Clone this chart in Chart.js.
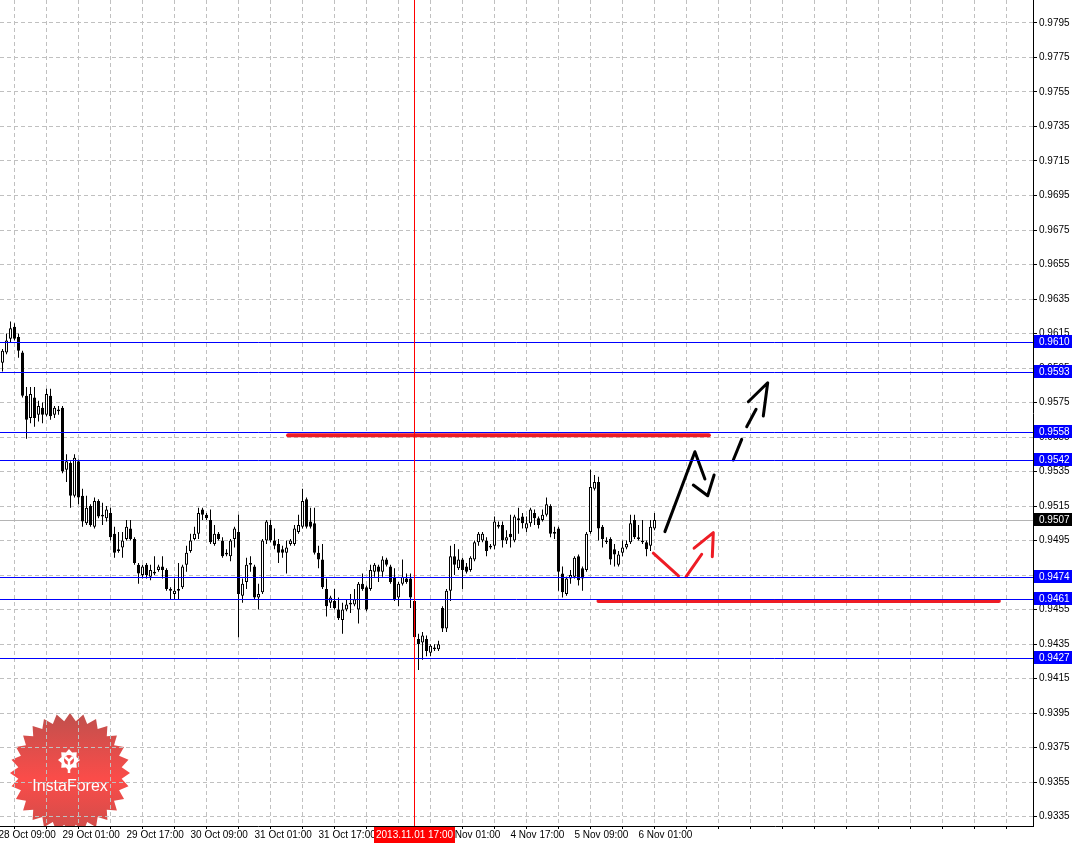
<!DOCTYPE html>
<html lang="en">
<head>
<meta charset="UTF-8">
<title>USDCHF H1</title>
<script src="https://cdn.jsdelivr.net/npm/chart.js"></script>
<style>
  html, body { margin: 0; padding: 0; background: #ffffff; }
  #caixa { width: 1074px; height: 844px; }
</style>
</head>
<body>
<div id="caixa"><canvas id="grafico" width="1074" height="844"></canvas></div>
<script>
// H1 candles, oldest first (bar 1 = 28 Oct 10:00)
const openP = [0.9598,0.9604,0.9612,0.9619,0.9613,0.9604,0.9579,0.9566,0.9578,0.9568,0.9572,0.9568,0.9579,0.9568,0.9571,0.9572,
  0.9536,0.9540,0.9521,0.9541,0.9521,0.9505,0.9515,0.9503,0.9518,0.9510,0.9508,0.9511,0.9499,0.9490,0.9491,0.9496,
  0.9502,0.9496,0.9481,0.9475,0.9481,0.9474,0.9477,0.9478,0.9480,0.9478,0.9467,0.9464,0.9466,0.9468,0.9481,0.9489,
  0.9496,0.9499,0.9513,0.9510,0.9507,0.9493,0.9499,0.9495,0.9488,0.9486,0.9496,0.9500,0.9463,0.9471,0.9482,0.9480,
  0.9462,0.9465,0.9495,0.9504,0.9495,0.9493,0.9490,0.9488,0.9493,0.9493,0.9500,0.9503,0.9519,0.9506,0.9505,0.9488,
  0.9484,0.9467,0.9459,0.9460,0.9455,0.9449,0.9455,0.9459,0.9458,0.9455,0.9470,0.9468,0.9467,0.9477,0.9480,0.9477,
  0.9484,0.9480,0.9474,0.9462,0.9470,0.9473,0.9473,0.9460,0.9438,0.9436,0.9438,0.9430,0.9433,0.9432,0.9456,0.9444,
  0.9466,0.9486,0.9479,0.9484,0.9480,0.9478,0.9484,0.9494,0.9495,0.9495,0.9491,0.9492,0.9503,0.9504,0.9495,0.9499,
  0.9495,0.9508,0.9509,0.9502,0.9505,0.9511,0.9508,0.9507,0.9510,0.9515,0.9499,0.9502,0.9476,0.9464,0.9473,0.9474,
  0.9486,0.9479,0.9478,0.9500,0.9525,0.9529,0.9503,0.9495,0.9496,0.9490,0.9481,0.9488,0.9491,0.9494,0.9507,0.9497,
  0.9495,0.9494,0.9492,0.9502];
const highP = [0.9606,0.9615,0.9622,0.9621,0.9615,0.9605,0.9584,0.9584,0.9584,0.9576,0.9575,0.9583,0.9583,0.9573,0.9573,0.9573,
  0.9545,0.9541,0.9545,0.9542,0.9525,0.9521,0.9516,0.9520,0.9519,0.9517,0.9515,0.9514,0.9503,0.9500,0.9500,0.9507,
  0.9507,0.9497,0.9482,0.9481,0.9482,0.9481,0.9486,0.9481,0.9486,0.9479,0.9468,0.9473,0.9482,0.9481,0.9492,0.9499,
  0.9503,0.9514,0.9514,0.9511,0.9513,0.9504,0.9500,0.9497,0.9490,0.9496,0.9503,0.9510,0.9473,0.9485,0.9486,0.9481,
  0.9470,0.9496,0.9507,0.9507,0.9502,0.9496,0.9492,0.9495,0.9496,0.9504,0.9510,0.9525,0.9520,0.9514,0.9514,0.9492,
  0.9493,0.9473,0.9463,0.9467,0.9462,0.9459,0.9461,0.9464,0.9467,0.9471,0.9476,0.9469,0.9481,0.9482,0.9481,0.9486,
  0.9485,0.9481,0.9479,0.9471,0.9484,0.9476,0.9476,0.9462,0.9441,0.9442,0.9440,0.9435,0.9435,0.9437,0.9457,0.9467,
  0.9492,0.9493,0.9490,0.9485,0.9482,0.9486,0.9495,0.9500,0.9500,0.9497,0.9493,0.9509,0.9506,0.9506,0.9501,0.9510,
  0.9510,0.9514,0.9511,0.9509,0.9514,0.9513,0.9509,0.9513,0.9520,0.9516,0.9503,0.9503,0.9480,0.9474,0.9478,0.9486,
  0.9487,0.9480,0.9500,0.9536,0.9533,0.9532,0.9504,0.9497,0.9497,0.9493,0.9489,0.9495,0.9495,0.9510,0.9510,0.9504,
  0.9507,0.9495,0.9507,0.9511];
const lowP = [0.9593,0.9603,0.9610,0.9611,0.9601,0.9578,0.9554,0.9563,0.9561,0.9564,0.9563,0.9567,0.9565,0.9566,0.9568,0.9534,
  0.9529,0.9514,0.9520,0.9516,0.9503,0.9504,0.9503,0.9502,0.9508,0.9504,0.9506,0.9495,0.9485,0.9488,0.9485,0.9495,
  0.9495,0.9481,0.9470,0.9473,0.9473,0.9472,0.9475,0.9477,0.9473,0.9466,0.9461,0.9461,0.9461,0.9467,0.9477,0.9488,
  0.9495,0.9496,0.9507,0.9507,0.9493,0.9492,0.9495,0.9485,0.9486,0.9483,0.9491,0.9439,0.9459,0.9467,0.9477,0.9461,
  0.9455,0.9464,0.9493,0.9494,0.9490,0.9482,0.9485,0.9476,0.9492,0.9492,0.9499,0.9502,0.9502,0.9502,0.9487,0.9479,
  0.9467,0.9451,0.9456,0.9455,0.9449,0.9441,0.9454,0.9453,0.9457,0.9447,0.9466,0.9454,0.9466,0.9474,0.9471,0.9474,
  0.9480,0.9470,0.9460,0.9457,0.9469,0.9470,0.9456,0.9438,0.9420,0.9426,0.9428,0.9428,0.9431,0.9431,0.9442,0.9442,
  0.9460,0.9475,0.9478,0.9467,0.9476,0.9477,0.9483,0.9492,0.9494,0.9486,0.9490,0.9490,0.9502,0.9491,0.9493,0.9491,
  0.9494,0.9499,0.9502,0.9500,0.9503,0.9504,0.9502,0.9506,0.9509,0.9497,0.9496,0.9466,0.9462,0.9463,0.9470,0.9473,
  0.9469,0.9466,0.9477,0.9499,0.9524,0.9495,0.9491,0.9493,0.9481,0.9480,0.9480,0.9486,0.9490,0.9493,0.9496,0.9495,
  0.9493,0.9486,0.9489,0.9501];
const closeP = [0.9605,0.9611,0.9618,0.9612,0.9605,0.9579,0.9565,0.9580,0.9566,0.9573,0.9568,0.9580,0.9567,0.9572,0.9570,0.9535,
  0.9541,0.9521,0.9543,0.9520,0.9506,0.9514,0.9504,0.9518,0.9509,0.9509,0.9513,0.9497,0.9488,0.9489,0.9495,0.9503,
  0.9496,0.9482,0.9476,0.9480,0.9475,0.9478,0.9476,0.9480,0.9478,0.9467,0.9466,0.9466,0.9467,0.9480,0.9488,0.9495,
  0.9499,0.9511,0.9510,0.9508,0.9494,0.9499,0.9496,0.9486,0.9487,0.9495,0.9502,0.9464,0.9470,0.9481,0.9481,0.9462,
  0.9464,0.9495,0.9506,0.9495,0.9492,0.9488,0.9488,0.9491,0.9495,0.9502,0.9504,0.9518,0.9503,0.9503,0.9488,0.9484,
  0.9468,0.9457,0.9462,0.9456,0.9450,0.9455,0.9458,0.9458,0.9461,0.9470,0.9467,0.9455,0.9478,0.9481,0.9477,0.9484,
  0.9481,0.9471,0.9461,0.9470,0.9474,0.9471,0.9462,0.9439,0.9435,0.9440,0.9431,0.9434,0.9432,0.9435,0.9444,0.9466,
  0.9486,0.9481,0.9484,0.9478,0.9477,0.9485,0.9494,0.9499,0.9499,0.9489,0.9492,0.9506,0.9504,0.9495,0.9497,0.9497,
  0.9509,0.9507,0.9505,0.9505,0.9513,0.9508,0.9504,0.9510,0.9516,0.9499,0.9500,0.9477,0.9465,0.9473,0.9475,0.9485,
  0.9472,0.9473,0.9499,0.9526,0.9529,0.9502,0.9496,0.9494,0.9484,0.9487,0.9487,0.9491,0.9493,0.9505,0.9497,0.9496,
  0.9494,0.9490,0.9503,0.9507];

// time axis: bar position -> label (every 16 bars)
const tickPos = [0, 16, 32, 48, 64, 80, 96, 112, 128, 144, 160];
const tickLabels = ['28 Oct 09:00', '29 Oct 01:00', '29 Oct 17:00', '30 Oct 09:00', '31 Oct 01:00', '31 Oct 17:00',
  '1 Nov 09:00', '4 Nov 01:00', '4 Nov 17:00', '5 Nov 09:00', '6 Nov 01:00'];
const priceTicks = [0.9335,0.9355,0.9375,0.9395,0.9415,0.9435,0.9455,0.9475,0.9495,0.9515,0.9535,0.9555,
  0.9575,0.9595,0.9615,0.9635,0.9655,0.9675,0.9695,0.9715,0.9735,0.9755,0.9775,0.9795];

// horizontal levels, bid and the marked bar
const levels = [0.9610, 0.9593, 0.9558, 0.9542, 0.9474, 0.9461, 0.9427];
const bidPrice = 0.9507;
const markBar = 104;
const markLabel = '2013.11.01 17:00';

// drawn objects, [bar position, price]
const redBands = [
  [[72.4, 0.9556], [177.6, 0.9556]],
  [[150.0, 0.9460], [250.1, 0.9460]]
];
const blackStrokes = [
  [[166.6, 0.95002], [174.1, 0.95465], [176.6, 0.95307]],
  [[173.7, 0.95272], [177.3, 0.95210], [178.9, 0.95330]],
  [[183.7, 0.95417], [185.8, 0.95537]],
  [[187.05, 0.95610], [189.4, 0.95711]],
  [[187.45, 0.95755], [192.3, 0.95865], [191.2, 0.95672]]
];
const redStrokes = [
  [[163.7, 0.94877], [170.0, 0.94745]],
  [[171.9, 0.94741], [175.8, 0.94871]],
  [[173.9, 0.94906], [178.7, 0.94996], [178.45, 0.94857]]
];

const X_MIN = 0.375, X_MAX = 258.625;
const Y_MIN = 0.93296, Y_MAX = 0.98083;

Chart.defaults.font.family = '"Liberation Sans", Arial, sans-serif';
Chart.defaults.font.size = 10;
Chart.defaults.color = '#000000';

const wickData = highP.map((h, i) => ({ x: i + 1, y: [lowP[i], h] }));
const bodyData = openP.map((o, i) => ({ x: i + 1, y: [o, closeP[i]] }));
const bodyColors = openP.map((o, i) => closeP[i] >= o ? '#ffffff' : '#000000');

function linha(pts, cor, largura) {
  return {
    type: 'line',
    data: pts.map(p => ({ x: p[0], y: p[1] })),
    borderColor: cor,
    borderWidth: largura,
    borderCapStyle: 'round',
    borderJoinStyle: 'round',
    pointRadius: 0,
    fill: false,
    tension: 0,
    order: 0
  };
}

function desenharLogo(ctx, area) {
  const cx = 70, cy = 773, R = 60, r = 52, n = 28;
  ctx.save();
  ctx.beginPath();
  ctx.rect(area.left, area.top, area.right - area.left, area.bottom - area.top);
  ctx.clip();
  ctx.beginPath();
  for (let i = 0; i < n * 2; i++) {
    const a = -Math.PI / 2 + i * Math.PI / n;
    const rad = i % 2 ? r : R;
    ctx.lineTo(cx + rad * Math.cos(a), cy + rad * Math.sin(a));
  }
  ctx.closePath();
  const g = ctx.createLinearGradient(0, cy - R, 0, cy + R);
  g.addColorStop(0, '#c0504d');
  g.addColorStop(0.55, '#fb4c49');
  g.addColorStop(1, '#cd4d4a');
  ctx.fillStyle = g;
  ctx.fill();

  // gear
  const gx = 69, gy = 760;
  ctx.fillStyle = '#ffffff';
  ctx.beginPath();
  for (let i = 0; i < 16; i++) {
    const a = i * Math.PI / 8;
    const rad = (i % 2) ? 8 : 11;
    ctx.lineTo(gx + rad * Math.cos(a), gy + rad * Math.sin(a));
  }
  ctx.closePath();
  ctx.fill();
  ctx.fillStyle = '#f04b49';
  ctx.beginPath();
  ctx.arc(gx, gy, 5, 0, Math.PI * 2);
  ctx.fill();
  ctx.strokeStyle = '#ffffff';
  ctx.lineWidth = 2.5;
  ctx.beginPath();
  ctx.moveTo(gx - 4, gy - 3); ctx.lineTo(gx, gy + 1); ctx.lineTo(gx + 4, gy - 3);
  ctx.moveTo(gx, gy + 1); ctx.lineTo(gx, gy + 13);
  ctx.stroke();

  ctx.fillStyle = '#ffffff';
  ctx.font = '16px "Liberation Sans", Arial, sans-serif';
  ctx.textAlign = 'center';
  ctx.textBaseline = 'middle';
  ctx.fillText('InstaForex', cx, 787);
  ctx.restore();
}

function etiqueta(ctx, texto, x, yc, fundo) {
  ctx.fillStyle = fundo;
  ctx.fillRect(x, yc - 7, 38, 13);
  ctx.fillStyle = '#ffffff';
  ctx.font = '10px "Liberation Sans", Arial, sans-serif';
  ctx.textAlign = 'left';
  ctx.textBaseline = 'middle';
  ctx.fillText(texto, x + 5, yc);
}

const objetosPlugin = {
  id: 'objetos',
  beforeDraw(chart) {
    desenharLogo(chart.ctx, chart.chartArea);
  },
  beforeDatasetsDraw(chart) {
    const ctx = chart.ctx, a = chart.chartArea, ys = chart.scales.y;
    const y = Math.round(ys.getPixelForValue(bidPrice)) + 0.5;
    ctx.save();
    ctx.strokeStyle = '#b4b4b4';
    ctx.lineWidth = 1;
    ctx.beginPath();
    ctx.moveTo(a.left, y); ctx.lineTo(a.right, y);
    ctx.stroke();
    ctx.restore();
  },
  afterDatasetsDraw(chart) {
    const ctx = chart.ctx, a = chart.chartArea, ys = chart.scales.y, xs = chart.scales.x;
    ctx.save();
    ctx.lineWidth = 1;
    ctx.strokeStyle = '#0000ff';
    levels.forEach(v => {
      const y = Math.round(ys.getPixelForValue(v)) + 0.5;
      ctx.beginPath();
      ctx.moveTo(a.left, y); ctx.lineTo(a.right, y);
      ctx.stroke();
    });
    const x = Math.floor(xs.getPixelForValue(markBar)) + 0.5;
    ctx.strokeStyle = '#ff0000';
    ctx.beginPath();
    ctx.moveTo(x, a.top); ctx.lineTo(x, a.bottom);
    ctx.stroke();
    ctx.restore();
  },
  afterDraw(chart) {
    const ctx = chart.ctx, a = chart.chartArea, ys = chart.scales.y, xs = chart.scales.x;
    ctx.save();
    levels.forEach(v => {
      etiqueta(ctx, v.toFixed(4), a.right + 1, Math.round(ys.getPixelForValue(v)), '#0000ff');
    });
    etiqueta(ctx, bidPrice.toFixed(4), a.right + 1, Math.round(ys.getPixelForValue(bidPrice)), '#000000');

    // time label of the marked bar
    const xc = Math.floor(xs.getPixelForValue(markBar)) + 0.5;
    ctx.font = '10px "Liberation Sans", Arial, sans-serif';
    const w = ctx.measureText(markLabel).width + 4;
    ctx.fillStyle = '#ff0000';
    ctx.fillRect(Math.round(xc - w / 2), a.bottom + 1, Math.round(w), 16);
    ctx.fillStyle = '#ffffff';
    ctx.textAlign = 'center';
    ctx.textBaseline = 'middle';
    ctx.fillText(markLabel, xc, a.bottom + 9);
    ctx.restore();
  }
};

const datasets = [
  {
    // high-low wicks
    type: 'bar',
    data: wickData,
    backgroundColor: '#000000',
    borderWidth: 0,
    grouped: false,
    barPercentage: 1,
    categoryPercentage: 1,
    maxBarThickness: 1,
    inflateAmount: 0,
    order: 2
  },
  {
    // open-close bodies
    type: 'bar',
    data: bodyData,
    backgroundColor: bodyColors,
    borderColor: '#000000',
    borderWidth: 1,
    borderSkipped: false,
    grouped: false,
    barPercentage: 1,
    categoryPercentage: 1,
    maxBarThickness: 3,
    inflateAmount: 0,
    order: 1
  }
];
redBands.forEach(s => datasets.push(linha(s, '#ee1c25', 4)));
blackStrokes.forEach(s => datasets.push(linha(s, '#000000', 3)));
redStrokes.forEach(s => datasets.push(linha(s, '#ee1c25', 3)));

const grafico = new Chart(document.getElementById('grafico'), {
  type: 'bar',
  data: { datasets: datasets },
  options: {
    responsive: false,
    animation: false,
    devicePixelRatio: 1,
    events: [],
    layout: { padding: 0, autoPadding: false },
    plugins: {
      legend: { display: false },
      tooltip: { enabled: false },
      title: { display: false }
    },
    scales: {
      x: {
        type: 'linear',
        position: 'bottom',
        min: X_MIN,
        max: X_MAX,
        offset: false,
        grid: { color: '#c0c0c0', lineWidth: 1, tickLength: 3, tickColor: '#000000' },
        border: { display: true, color: '#000000', width: 1, dash: [4, 3] },
        ticks: {
          autoSkip: false,
          maxRotation: 0,
          minRotation: 0,
          align: 'start',
          padding: 0,
          color: '#000000',
          callback: v => {
            const k = tickPos.indexOf(v);
            return k >= 0 ? tickLabels[k] : '';
          }
        },
        afterBuildTicks: s => {
          const t = [];
          for (let p = 0; p <= X_MAX; p += 8) t.push({ value: p });
          s.ticks = t;
        },
        afterFit: s => {
          s.height = 18;
          s.paddingLeft = 0;
          s.paddingRight = 0;
        }
      },
      y: {
        type: 'linear',
        position: 'right',
        min: Y_MIN,
        max: Y_MAX,
        grid: { color: '#c0c0c0', lineWidth: 1, tickLength: 4, tickColor: '#000000' },
        border: { display: true, color: '#000000', width: 1, dash: [4, 3] },
        ticks: {
          autoSkip: false,
          padding: 2,
          color: '#000000',
          callback: v => v.toFixed(4)
        },
        afterBuildTicks: s => {
          s.ticks = priceTicks.map(v => ({ value: v }));
        },
        afterFit: s => {
          s.width = 41;
          s.paddingTop = 0;
          s.paddingBottom = 0;
        }
      }
    }
  },
  plugins: [objetosPlugin]
});
</script>
</body>
</html>
